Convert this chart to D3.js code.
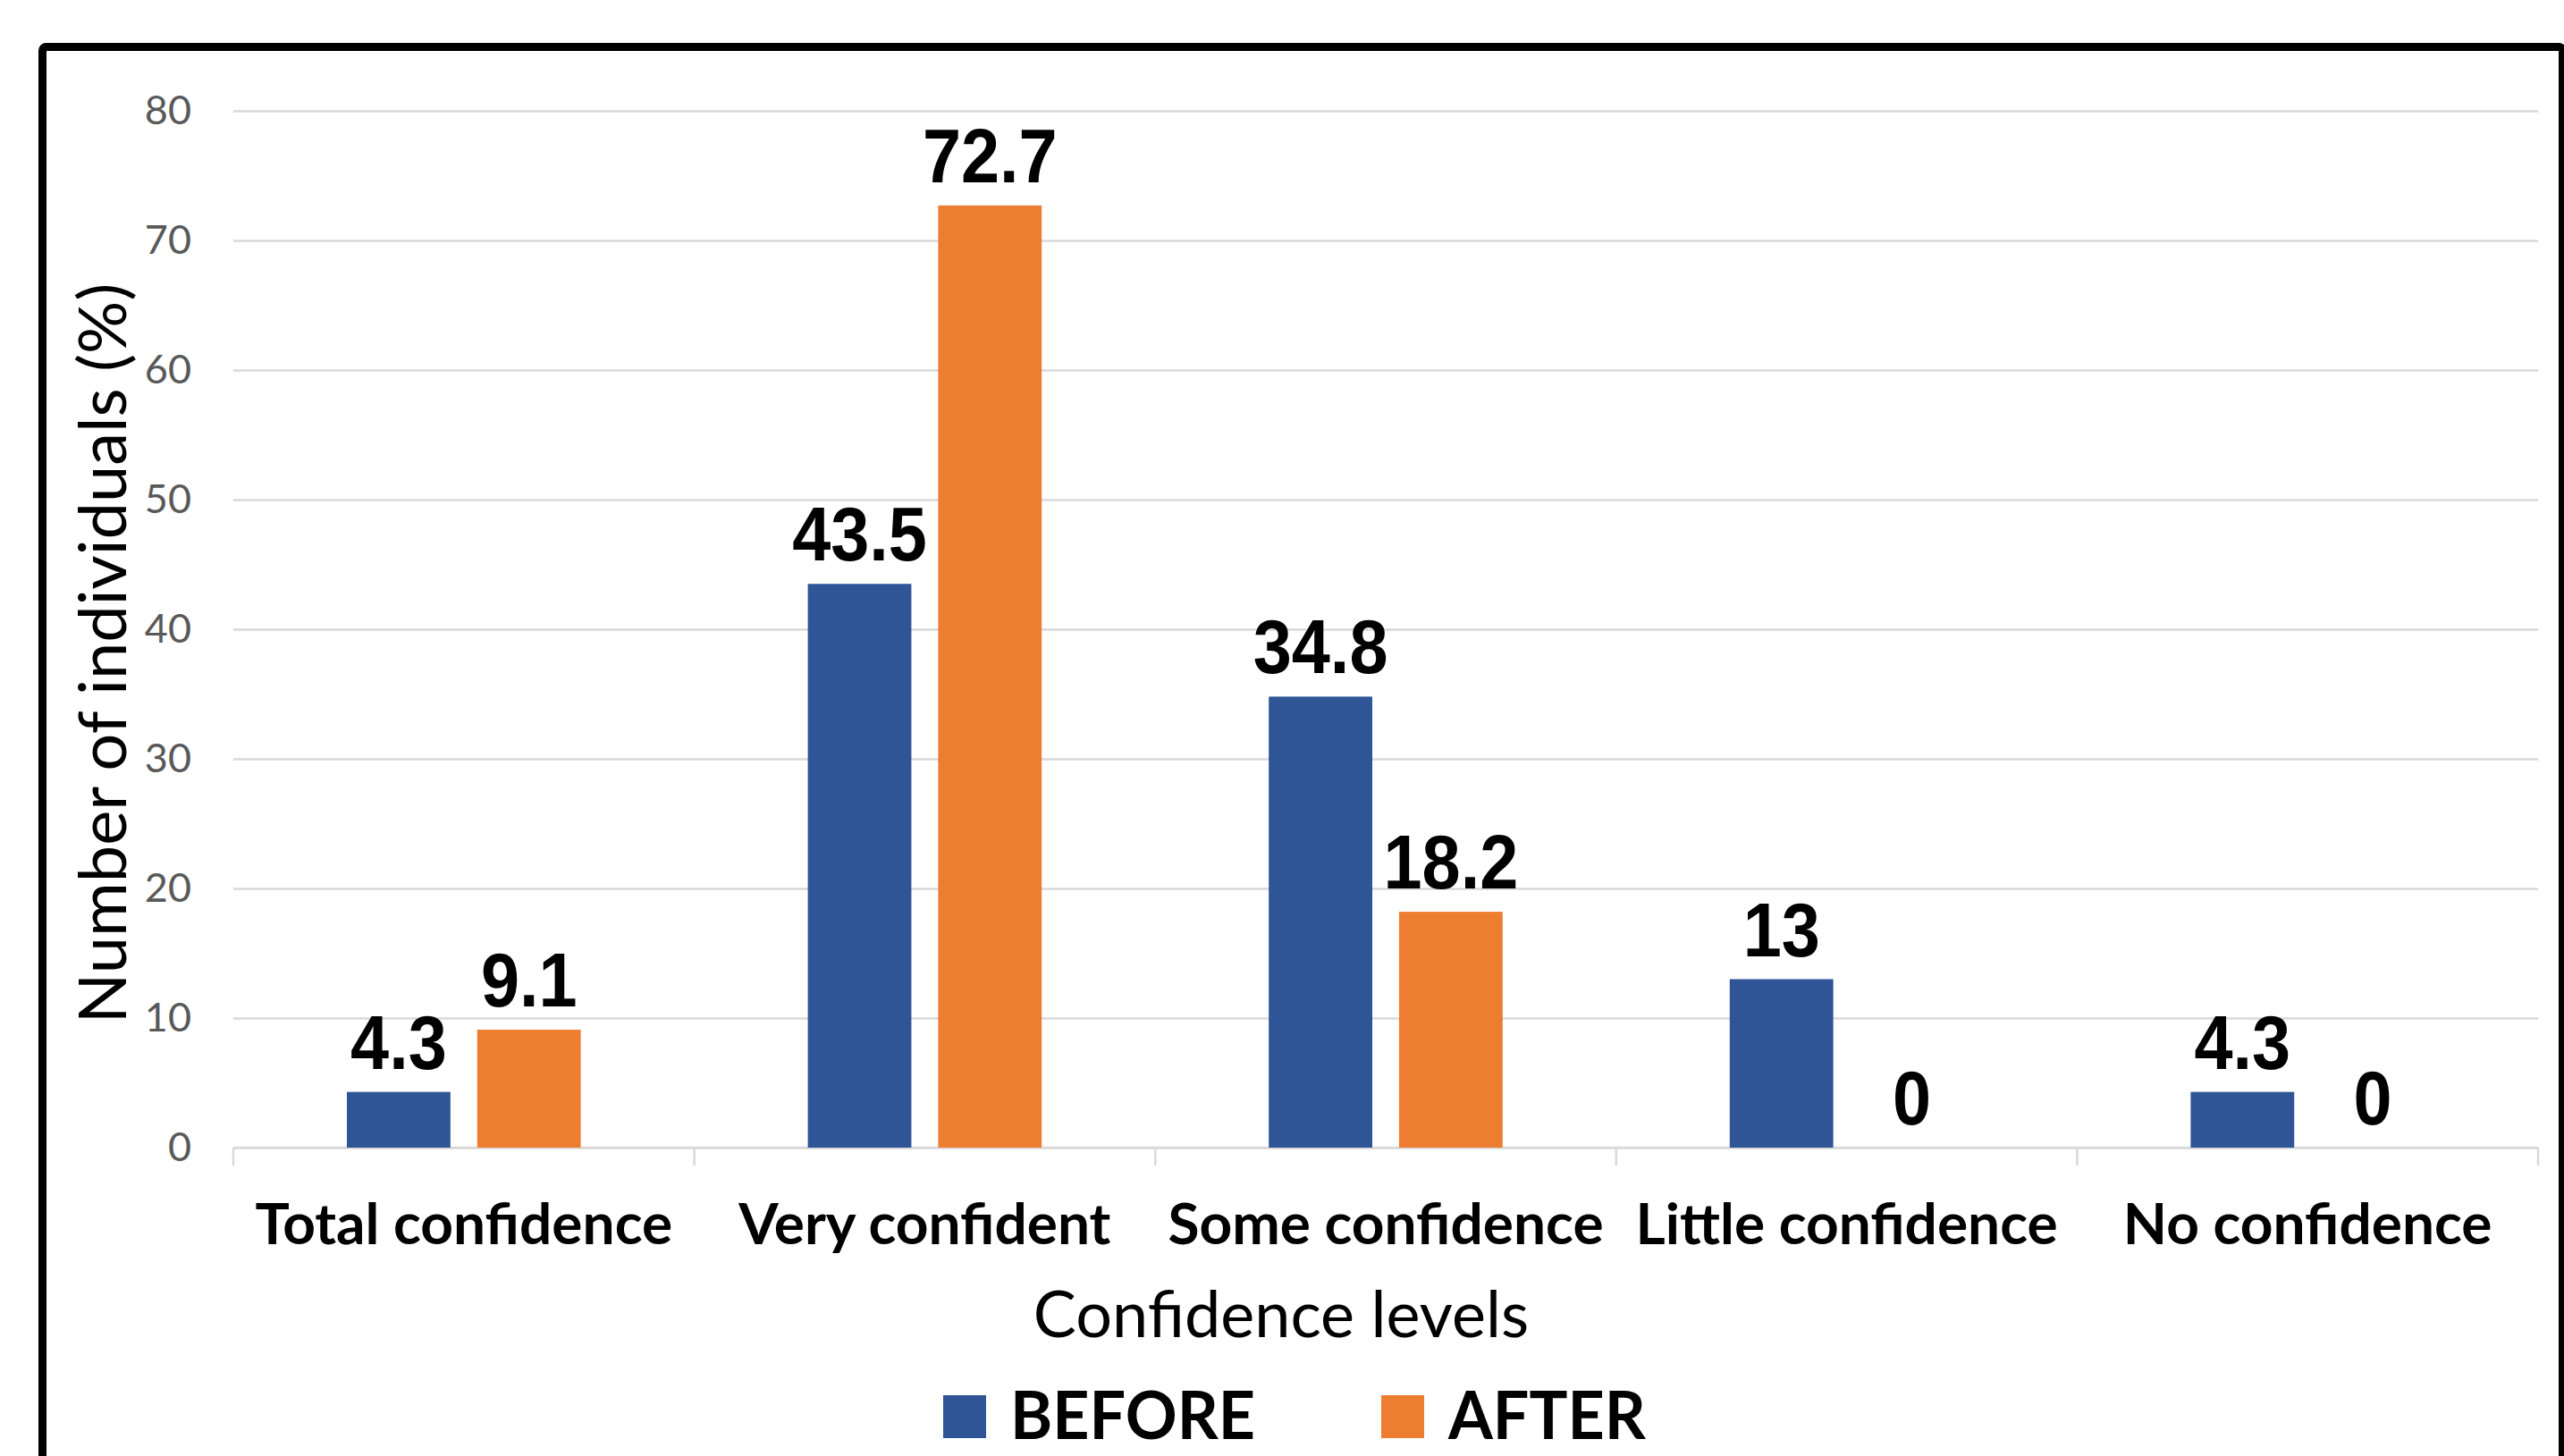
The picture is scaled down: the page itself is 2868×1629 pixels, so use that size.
<!DOCTYPE html>
<html>
<head>
<meta charset="utf-8">
<script src="https://cdn.jsdelivr.net/npm/d3@7"></script>
<style>
  html, body { margin: 0; padding: 0; background: #fff; overflow: hidden; }
  svg { display: block; }
</style>
</head>
<body>
<svg id="chart" width="2868" height="1629"></svg>
<script>
// ---- data ----
const categories = ["Total confidence", "Very confident", "Some confidence", "Little confidence", "No confidence"];
const seriesNames = ["BEFORE", "AFTER"];
const beforeValues = [4.3, 43.5, 34.8, 13, 4.3];
const afterValues = [9.1, 72.7, 18.2, 0, 0];
const yTickValues = [0, 10, 20, 30, 40, 50, 60, 70, 80];
const xAxisTitle = "Confidence levels";
const yAxisTitle = "Number of individuals (%)";

// ---- styles / layout ----
const colors = { BEFORE: "#2F5597", AFTER: "#ED7D31" };
const W = 2868, H = 1629;
const plot = { left: 261, right: 2839, top: 124, bottom: 1284 };

const svg = d3.select("#chart");
svg.append("rect").attr("width", W).attr("height", H).attr("fill", "#fff");

const x0 = d3.scaleBand().domain(categories).range([plot.left, plot.right]).padding(0);
const groupPad = 127 / 515.6;
const x1 = d3.scaleBand().domain(seriesNames)
  .range([x0.bandwidth() * groupPad, x0.bandwidth() * (1 - groupPad)])
  .paddingInner(0.2055).paddingOuter(0);
const y = d3.scaleLinear().domain([0, 80]).range([plot.bottom, plot.top]);

// gridlines + y tick labels
const yAxis = d3.axisLeft(y).tickValues(yTickValues).tickSize(-(plot.right - plot.left)).tickPadding(47).tickFormat(d3.format("d"));
const gy = svg.append("g").attr("transform", `translate(${plot.left},0)`).call(yAxis);
gy.select(".domain").remove();
gy.selectAll(".tick line").attr("stroke", "#D9D9D9").attr("stroke-width", 2.5);
gy.selectAll(".tick text").attr("fill", "#595959").attr("font-family", "Lato, sans-serif").attr("font-size", 45);

// x axis with category dividers
const xAxisG = svg.append("g").attr("transform", `translate(0,${plot.bottom})`);
xAxisG.append("line").attr("x1", plot.left).attr("x2", plot.right).attr("y1", 0).attr("y2", 0)
  .attr("stroke", "#D9D9D9").attr("stroke-width", 2.5);
const dividers = categories.map(c => x0(c)).concat([x0(categories[categories.length - 1]) + x0.bandwidth()]);
xAxisG.selectAll("line.div").data(dividers).join("line").attr("class", "div")
  .attr("x1", d => d).attr("x2", d => d).attr("y1", 0).attr("y2", 20)
  .attr("stroke", "#D9D9D9").attr("stroke-width", 2.5);
xAxisG.selectAll("text.cat").data(categories).join("text").attr("class", "cat")
  .attr("x", d => x0(d) + x0.bandwidth() / 2).attr("y", 108)
  .attr("text-anchor", "middle").attr("font-family", "Lato, sans-serif").attr("font-weight", 700)
  .attr("font-size", 64).attr("fill", "#000").text(d => d);

// bars
const rows = categories.map((c, i) => ({ cat: c, vals: [
  { s: "BEFORE", v: beforeValues[i] }, { s: "AFTER", v: afterValues[i] } ] }));
const groups = svg.append("g").selectAll("g").data(rows).join("g")
  .attr("transform", d => `translate(${x0(d.cat)},0)`);
groups.selectAll("rect").data(d => d.vals).join("rect")
  .attr("x", d => x1(d.s)).attr("width", x1.bandwidth())
  .attr("y", d => y(d.v)).attr("height", d => y(0) - y(d.v))
  .attr("fill", d => colors[d.s]);
groups.selectAll("text").data(d => d.vals).join("text")
  .attr("x", d => x1(d.s) + x1.bandwidth() / 2).attr("y", d => y(d.v) - 26)
  .attr("text-anchor", "middle").attr("font-family", "'Liberation Sans', Arial, sans-serif")
  .attr("font-weight", 700).attr("font-size", 86).attr("fill", "#000")
  .text(d => d3.format("")(d.v))
  .each(function () {
    const w = this.getComputedTextLength();
    d3.select(this).attr("textLength", w * 0.9).attr("lengthAdjust", "spacingAndGlyphs");
  });

// axis titles
svg.append("text").attr("x", 1433).attr("y", 1496).attr("text-anchor", "middle")
  .attr("font-family", "Lato, sans-serif").attr("font-size", 72).attr("fill", "#000").text(xAxisTitle);
svg.append("text").attr("transform", "translate(141,731) rotate(-90)").attr("text-anchor", "middle")
  .attr("font-family", "Lato, sans-serif").attr("font-size", 74).attr("fill", "#000").text(yAxisTitle);

// legend
const legendX = [1055, 1545];
const lg = svg.append("g").selectAll("g").data(seriesNames).join("g")
  .attr("transform", (d, i) => `translate(${legendX[i]},1561)`);
lg.append("rect").attr("width", 48).attr("height", 48).attr("fill", d => colors[d]);
lg.append("text").attr("x", 75).attr("y", 49).attr("font-family", "Lato, sans-serif")
  .attr("font-weight", 700).attr("font-size", 74).attr("fill", "#000").text(d => d)
  .each(function () {
    const w = this.getComputedTextLength();
    d3.select(this).attr("textLength", w * 0.97).attr("lengthAdjust", "spacingAndGlyphs");
  });

// chart border (extends beyond bottom edge)
svg.append("rect").attr("x", 47.5).attr("y", 52.5).attr("width", 2819).attr("height", 2000)
  .attr("rx", 4).attr("fill", "none").attr("stroke", "#000").attr("stroke-width", 9);
</script>
</body>
</html>
